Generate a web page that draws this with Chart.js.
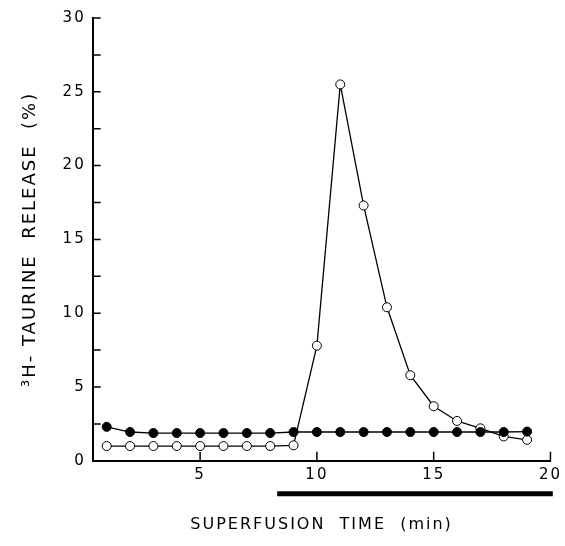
<!DOCTYPE html>
<html lang="en">
<head>
    <meta charset="UTF-8">
    <title>Taurine release</title>
    <script src="https://cdn.jsdelivr.net/npm/chart.js"></script>
    <style>
        html, body { margin: 0; padding: 0; background: #fff; }
        #wrap { width: 565px; height: 546px; }
    </style>
</head>
<body>
    <div id="wrap"><canvas id="myChart"></canvas></div>
    <script>
        // superfusion time (min)
        const times = [1, 2, 3, 4, 5, 6, 7, 8, 9, 10, 11, 12, 13, 14, 15, 16, 17, 18, 19];
        // filled circles
        const controlRelease = [2.3, 1.95, 1.88, 1.88, 1.88, 1.88, 1.88, 1.88, 1.95, 1.95, 1.95, 1.95, 1.95, 1.95, 1.95, 1.95, 1.95, 1.95, 1.98];
        // open circles
        const stimRelease = [1.0, 1.0, 1.0, 1.0, 1.0, 1.0, 1.0, 1.0, 1.05, 7.8, 25.5, 17.3, 10.4, 5.8, 3.7, 2.7, 2.2, 1.65, 1.42];
        const xTicks = [5, 10, 15, 20];
        const yTicks = [0, 5, 10, 15, 20, 25, 30];
        const yMinorTicks = [2.5, 7.5, 12.5, 17.5, 22.5, 27.5];
        // stimulus period shown as thick bar under the axis
        const stimulusPeriod = [8.3, 20.1];

        const toPoints = vals => vals.map((v, i) => ({ x: times[i], y: v }));

        const innerTicks = {
            id: 'innerTicks',
            afterDraw(chart) {
                const ctx = chart.ctx, x = chart.scales.x, y = chart.scales.y;
                const area = chart.chartArea;
                ctx.save();
                ctx.strokeStyle = '#000';
                ctx.lineWidth = 1.5;
                ctx.beginPath();
                yTicks.concat(yMinorTicks).forEach(v => {
                    const py = y.getPixelForValue(v);
                    ctx.moveTo(area.left, py);
                    ctx.lineTo(area.left + 8, py);
                });
                xTicks.forEach(v => {
                    const px = x.getPixelForValue(v);
                    ctx.moveTo(px, area.bottom);
                    ctx.lineTo(px, area.bottom - 9);
                });
                ctx.stroke();
                // stimulus bar
                ctx.lineWidth = 5;
                ctx.beginPath();
                ctx.moveTo(x.getPixelForValue(stimulusPeriod[0]), area.bottom + 33);
                ctx.lineTo(x.getPixelForValue(stimulusPeriod[1]), area.bottom + 33);
                ctx.stroke();
                ctx.restore();
            }
        };

        const spacing = {
            id: 'spacing',
            beforeDraw(chart) { chart.ctx.letterSpacing = '2px'; }
        };

        new Chart(document.getElementById('myChart').getContext('2d'), {
            type: 'line',
            data: {
                datasets: [
                    {
                        label: 'control',
                        data: toPoints(controlRelease),
                        borderColor: '#000',
                        borderWidth: 1.3,
                        pointRadius: 4.5,
                        pointBackgroundColor: '#000',
                        pointBorderColor: '#000',
                        pointBorderWidth: 1,
                        tension: 0
                    },
                    {
                        label: 'stimulated',
                        data: toPoints(stimRelease),
                        borderColor: '#000',
                        borderWidth: 1.3,
                        pointRadius: 4.5,
                        pointBackgroundColor: '#fff',
                        pointBorderColor: '#000',
                        pointBorderWidth: 1,
                        tension: 0
                    }
                ]
            },
            options: {
                responsive: true,
                maintainAspectRatio: false,
                animation: false,
                layout: { padding: { left: 20, right: 2, top: 18, bottom: 12 } },
                plugins: {
                    legend: { display: false },
                    tooltip: { enabled: false }
                },
                scales: {
                    x: {
                        type: 'linear',
                        min: 0.4,
                        max: 20,
                        afterBuildTicks: axis => { axis.ticks = xTicks.map(v => ({ value: v })); },
                        ticks: {
                            color: '#000',
                            font: { family: 'DejaVu Sans', size: 15 },
                            padding: 5
                        },
                        grid: { display: false, drawTicks: false },
                        border: { display: true, color: '#000', width: 2 },
                        title: {
                            display: true,
                            text: 'SUPERFUSION  TIME  (min)',
                            color: '#000',
                            font: { family: 'DejaVu Sans', size: 16 },
                            padding: { top: 26, bottom: 0 }
                        }
                    },
                    y: {
                        min: 0,
                        max: 30,
                        afterBuildTicks: axis => { axis.ticks = yTicks.map(v => ({ value: v })); },
                        ticks: {
                            color: '#000',
                            font: { family: 'DejaVu Sans', size: 15 },
                            padding: 7
                        },
                        grid: { display: false, drawTicks: false },
                        border: { display: true, color: '#000', width: 2 },
                        title: {
                            display: true,
                            text: '\u00b3H- TAURINE  RELEASE  (%)',
                            color: '#000',
                            font: { family: 'DejaVu Sans', size: 18 },
                            padding: { top: 0, bottom: 18 }
                        }
                    }
                }
            },
            plugins: [innerTicks, spacing]
        });
    </script>
</body>
</html>
